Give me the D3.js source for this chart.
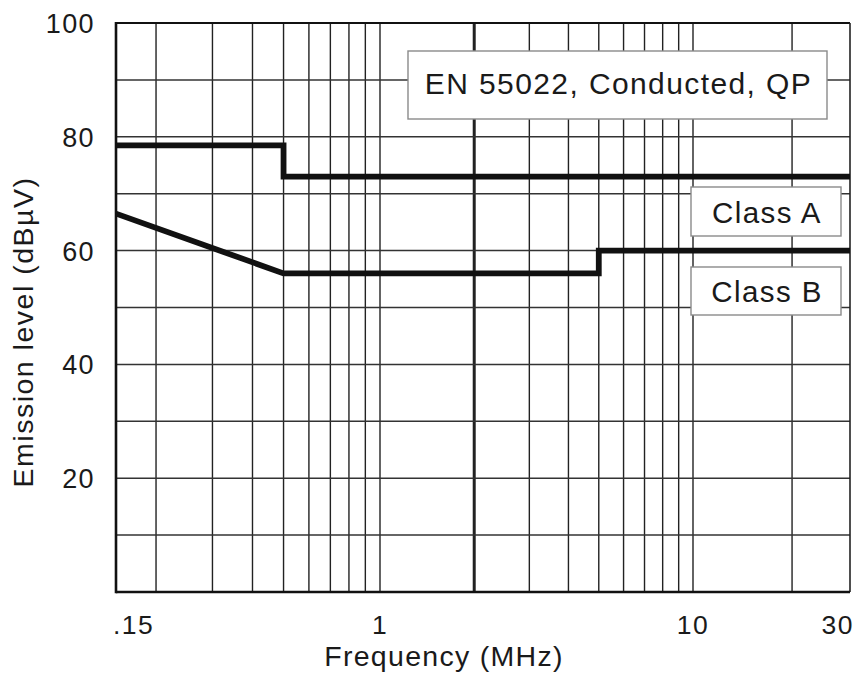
<!DOCTYPE html>
<html>
<head>
<meta charset="utf-8">
<script src="https://cdn.jsdelivr.net/npm/d3@7"></script>
<style>
  html, body { margin: 0; padding: 0; background: #fff; }
  svg { display: block; font-family: "Liberation Sans", Arial, Helvetica, sans-serif; }
</style>
</head>
<body>
<svg id="chart" width="857" height="682"></svg>
<script>
// ---- data ----
const xTickValues = [0.15, 1, 10, 30];
const xTickLabels = [".15", "1", "10", "30"];
const yTickValues = [20, 40, 60, 80, 100];
const yTickLabels = ["20", "40", "60", "80", "100"];
const xGridValues = [0.2, 0.3, 0.4, 0.5, 0.6, 0.7, 0.8, 0.9, 1, 2, 3, 4, 5, 6, 7, 8, 9, 10, 20];
const xGridBold = [2];
const yGridValues = [10, 20, 30, 40, 50, 60, 70, 80, 90];

const classAFreq  = [0.15, 0.5, 0.5, 30];
const classALevel = [78.5, 78.5, 73, 73];
const classBFreq  = [0.15, 0.5, 5, 5, 30];
const classBLevel = [66.5, 56, 56, 60, 60];

const titleText = "EN 55022, Conducted, QP";
const seriesNames = ["Class A", "Class B"];
const xTitle = "Frequency (MHz)";
const yTitle = "Emission level (dB\u00B5V)";

// ---- layout ----
const L = 116, R = 850, T = 23, B = 592;
const svg = d3.select("#chart");

const x = d3.scaleLog()
  .domain([0.15, 1, 10, 30])
  .range([L, 380, 693, R]);
const y = d3.scaleLinear().domain([0, 100]).range([B, T]);

// grid
const grid = svg.append("g");
grid.selectAll("line.v").data(xGridValues).join("line")
  .attr("x1", d => x(d)).attr("x2", d => x(d))
  .attr("y1", T).attr("y2", B)
  .attr("stroke", "#222")
  .attr("stroke-width", d => xGridBold.includes(d) ? 3 : 1.4);
grid.selectAll("line.h").data(yGridValues).join("line")
  .attr("x1", L).attr("x2", R)
  .attr("y1", d => y(d)).attr("y2", d => y(d))
  .attr("stroke", "#333")
  .attr("stroke-width", 1.5);

// frame
svg.append("line").attr("x1", L).attr("x2", R).attr("y1", T).attr("y2", T).attr("stroke", "#111").attr("stroke-width", 2.2);
svg.append("line").attr("x1", R).attr("x2", R).attr("y1", T).attr("y2", B).attr("stroke", "#222").attr("stroke-width", 1.6);
svg.append("line").attr("x1", L).attr("x2", L).attr("y1", T - 1).attr("y2", B + 1.2).attr("stroke", "#111").attr("stroke-width", 2.6);
svg.append("line").attr("x1", L).attr("x2", R).attr("y1", B).attr("y2", B).attr("stroke", "#111").attr("stroke-width", 2.6);

// limit lines
const line = d3.line().x(d => x(d[0])).y(d => y(d[1]));
const seriesA = classAFreq.map((f, i) => [f, classALevel[i]]);
const seriesB = classBFreq.map((f, i) => [f, classBLevel[i]]);
[seriesA, seriesB].forEach(s => {
  svg.append("path").datum(s)
    .attr("d", line)
    .attr("fill", "none")
    .attr("stroke", "#111")
    .attr("stroke-width", 5.8)
    .attr("stroke-linejoin", "miter");
});

// boxes
function box(x0, y0, x1, y1, text, baseline, size) {
  svg.append("rect").attr("x", x0).attr("y", y0)
    .attr("width", x1 - x0).attr("height", y1 - y0)
    .attr("fill", "#fff").attr("stroke", "#8a8a8a").attr("stroke-width", 1.4);
  svg.append("text").attr("x", (x0 + x1) / 2 + 1).attr("y", baseline)
    .attr("text-anchor", "middle")
    .attr("font-size", size).attr("letter-spacing", "1.4px")
    .attr("fill", "#1a1a1a")
    .text(text);
}
box(408, 51, 827, 119, titleText, 94, 30);
box(691, 187, 841, 236, seriesNames[0], 223, 29.5);
box(691, 267, 841, 315, seriesNames[1], 302, 29.5);

// y tick labels
svg.append("g").selectAll("text").data(yTickValues).join("text")
  .attr("x", 95)
  .attr("y", d => y(d) + 10)
  .attr("text-anchor", "end")
  .attr("font-size", 27).attr("letter-spacing", "1.4px")
  .attr("fill", "#1a1a1a")
  .text((d, i) => yTickLabels[i]);

// x tick labels
svg.append("g").selectAll("text").data(xTickValues).join("text")
  .attr("x", (d, i) => i === 0 ? x(d) - 3 : (i === xTickValues.length - 1 ? x(d) + 4 : x(d)))
  .attr("y", 634)
  .attr("text-anchor", (d, i) => i === 0 ? "start" : (i === xTickValues.length - 1 ? "end" : "middle"))
  .attr("font-size", 26.5).attr("letter-spacing", "1.5px")
  .attr("fill", "#1a1a1a")
  .text((d, i) => xTickLabels[i]);

// axis titles
svg.append("text").attr("x", 444).attr("y", 666)
  .attr("text-anchor", "middle")
  .attr("font-size", 28.5).attr("letter-spacing", "1.3px")
  .attr("fill", "#1a1a1a")
  .text(xTitle);
svg.append("text")
  .attr("transform", "translate(33,332) rotate(-90)")
  .attr("text-anchor", "middle")
  .attr("font-size", 28.5).attr("letter-spacing", "1.5px")
  .attr("fill", "#1a1a1a")
  .text(yTitle);
</script>
</body>
</html>
